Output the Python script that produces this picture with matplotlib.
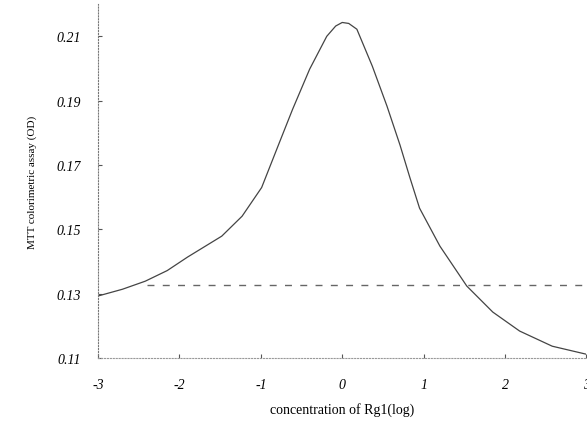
import matplotlib
matplotlib.use('Agg')
import matplotlib.pyplot as plt

# curve
conc = [-3.0, -2.7, -2.42, -2.15, -1.9, -1.48, -1.23, -0.99, -0.77, -0.61,
        -0.40, -0.19, -0.08, 0.0, 0.08, 0.18, 0.37, 0.55, 0.71, 0.83, 0.95,
        1.20, 1.53, 1.85, 2.18, 2.58, 3.0]
od = [0.1293, 0.1314, 0.1339, 0.1372, 0.1414, 0.1479, 0.1541, 0.1630, 0.1771,
      0.1873, 0.1998, 0.2100, 0.2132, 0.2143, 0.2140, 0.2122, 0.2007, 0.1883,
      0.1762, 0.1662, 0.1566, 0.1448, 0.1324, 0.1243, 0.1184, 0.1137, 0.1112]

ref_level = 0.1328
ref_x = [-2.4, 3.0]

xticks = [-3, -2, -1, 0, 1, 2, 3]
xlabels = ['-3', '-2', '-1', '0', '1', '2', '3']
yticks = [0.11, 0.13, 0.15, 0.17, 0.19, 0.21]
ylabels = ['0.11', '0.13', '0.15', '0.17', '0.19', '0.21']

plt.rcParams['font.family'] = ['Liberation Serif', 'DejaVu Serif']

fig = plt.figure(figsize=(5.87, 4.27), dpi=100)
ax = fig.add_axes([0.167, 0.159, 0.832, 0.829])

ax.plot(conc, od, color='#444444', lw=0.9)
ax.plot(ref_x, [ref_level, ref_level], color='#666666', lw=1.0,
        linestyle=(0, (5, 6)))

ax.set_xlim(-3, 3)
ax.set_ylim(0.11, 0.22)

ax.spines['top'].set_visible(False)
ax.spines['right'].set_visible(False)
ax.spines['left'].set_color('#777777')
ax.spines['left'].set_linestyle(':')
ax.spines['bottom'].set_color('#999999')
ax.spines['bottom'].set_linestyle(':')

ax.set_xticks(xticks)
ax.set_xticklabels(xlabels, fontstyle='italic', fontsize=10)
ax.set_yticks(yticks)
ax.set_yticklabels(ylabels, fontstyle='italic', fontsize=10)
ax.tick_params(axis='both', direction='in', length=3, width=0.8,
               color='#555555')
ax.tick_params(axis='x', pad=14)
ax.tick_params(axis='y', pad=12)

ax.set_xlabel('concentration of Rg1(log)', fontsize=10, labelpad=8)
ax.set_ylabel('MTT colorimetric assay (OD)', fontsize=8, labelpad=14)

fig.savefig('out.png', dpi=100)
